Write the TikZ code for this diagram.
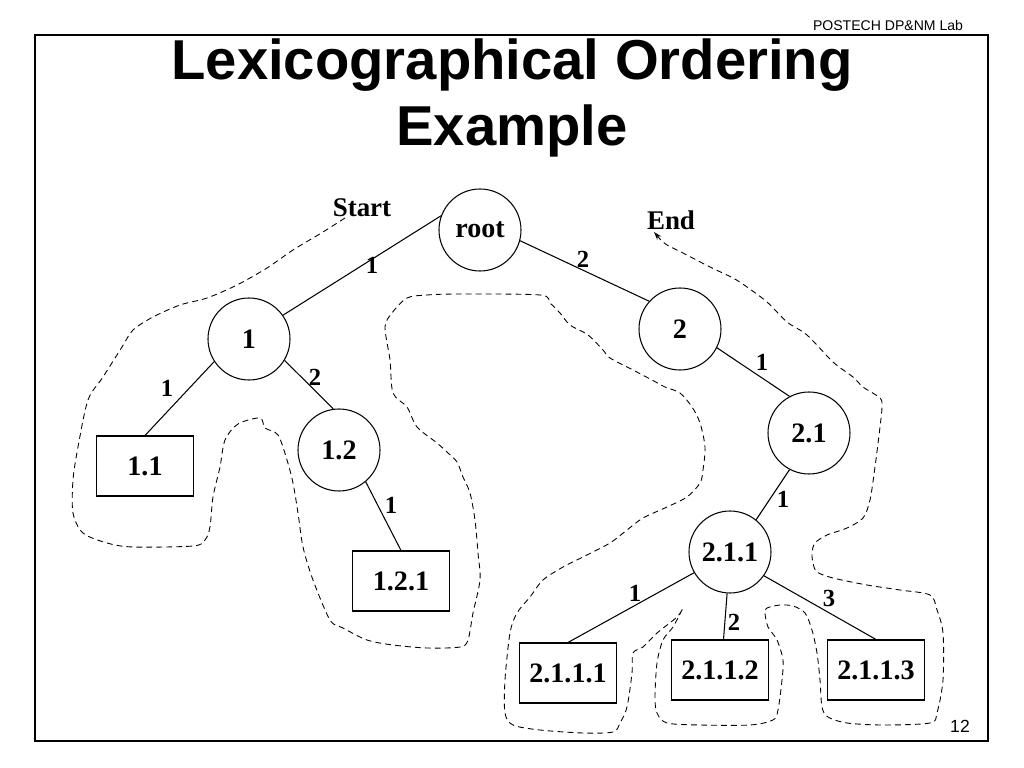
\documentclass[tikz,border=0pt]{standalone}
\usepackage{fontspec}
\setmainfont{Liberation Serif}
\newfontfamily\headfont{Liberation Sans}
\usetikzlibrary{arrows.meta}

\tikzset{
  inner/.style={circle, draw, line width=0.9pt, minimum size=2.46cm, inner sep=0pt,
    font=\fontsize{24}{28}\selectfont\bfseries},
  leaf/.style={rectangle, draw, line width=0.9pt, minimum width=2.91cm, minimum height=1.8cm,
    inner sep=0pt, font=\fontsize{24}{28}\selectfont\bfseries},
  branch/.style={line width=0.9pt},
  lbl/.style={inner sep=0pt, font=\fontsize{21}{24}\selectfont\bfseries},
  walk/.style={dash pattern=on 5pt off 3.5pt, line width=0.75pt},
}

\begin{document}
\begin{tikzpicture}[x=0.03cm, y=-0.03cm]
    \useasboundingbox (0,0) rectangle (1024,768);
    \draw[line width=2.5pt] (35,35) rectangle (988,741);

    \node[font=\headfont\fontsize{12}{14}\selectfont] (lab) at (888,25) {POSTECH DP\&NM Lab};
    \node[font=\headfont\fontsize{15}{18}\selectfont] (page) at (960,726) {12};
    \node[font=\headfont\fontsize{48}{56}\selectfont\bfseries, align=center] (title) at (512,98)
        {Lexicographical Ordering\\Example};

    % tree
    \node[inner] (root) at (480,230) {root};
    \node[inner] (n1) at (249,339) {1};
    \node[inner] (n12) at (339,450) {1.2};
    \node[inner] (n2) at (680,329) {2};
    \node[inner] (n21) at (809,433) {2.1};
    \node[inner] (n211) at (730,552) {2.1.1};
    \node[leaf] (b11) at (145,466) {1.1};
    \node[leaf] (b121) at (401,581) {1.2.1};
    \node[leaf] (b2111) at (568,673) {2.1.1.1};
    \node[leaf] (b2112) at (720,670) {2.1.1.2};
    \node[leaf] (b2113) at (876,670) {2.1.1.3};

    \draw[branch] (root.160) -- (n1.35);
    \draw[branch] (root.-15) -- (n2.138);
    \draw[branch] (n1.213) -- (b11.north);
    \draw[branch] (n1.-31) -- (n12.98);
    \draw[branch] (n12.-50) -- (b121.north);
    \draw[branch] (n2.-27) -- (n21.118);
    \draw[branch] (n21.242) -- (n211.51);
    \draw[branch] (n211.210) -- (b2111.north);
    \draw[branch] (n211.-94) -- ([xshift=3pt]b2112.north);
    \draw[branch] (n211.-35) -- (b2113.north);

    \node[lbl] (e1) at (372,265) {1};
    \node[lbl] (e2) at (583,259) {2};
    \node[lbl] (e11) at (167,388) {1};
    \node[lbl] (e12) at (315,377) {2};
    \node[lbl] (e121) at (391,505) {1};
    \node[lbl] (e21) at (762,362) {1};
    \node[lbl] (e211) at (783,499) {1};
    \node[lbl] (e2111) at (635,593) {1};
    \node[lbl] (e2112) at (734,622) {2};
    \node[lbl] (e2113) at (829,598) {3};

    \node[lbl, font=\fontsize{23}{26}\selectfont\bfseries] (start) at (362,208) {Start};
    \node[lbl, font=\fontsize{23}{26}\selectfont\bfseries] (end) at (671,220) {End};

    % the walk round the tree
    \draw[walk] plot[smooth, tension=0.5] coordinates {
        (345,218) (323,232) (293,250) (267,268) (237,285) (207,298) (180,305) (153,317)
        (133,330) (122,347) (103,377) (88,400) (78,447) (73,480) (73,513) (83,533)
        (107,543) (133,547) (193,546) (205,540) (210,527) (213,497) (220,467) (225,440)
        (238,424) (260,418) (265,428) (278,435) (287,460) (293,483) (298,513) (303,547)
        (313,580) (330,620) (343,628) (367,640) (393,645) (427,648) (460,647) (468,640)
        (473,613) (480,580) (478,553) (475,520) (470,493) (463,477) (457,462) (448,453)
        (437,443) (417,427) (407,407) (393,393) (390,360) (385,327) (392,313) (407,298)
        (427,295) (460,294) (540,295) (550,303) (560,313) (570,325) (588,335) (603,350)
        (610,358) (633,370) (652,380) (665,387) (680,393) (692,407) (700,423) (705,447)
        (703,470) (700,483) (687,497) (667,507) (643,518) (627,530) (610,543) (583,557)
        (563,567) (543,580) (530,597) (517,613) (510,633) (505,680) (505,713) (513,725)
        (540,730) (583,733) (613,732) (620,723) (627,707) (632,673) (633,653) (643,647)
        (657,633) (677,617) (683,608)}
      -- plot[smooth, tension=0.5] coordinates {
        (683,608) (673,627) (663,640) (657,663) (655,697) (657,713) (667,723) (700,725)
        (750,725) (773,720) (778,710) (782,680) (783,660) (777,640) (768,627) (765,613)
        (767,608) (780,605) (793,606) (805,613) (812,630) (817,653) (820,680) (822,707)
        (828,717) (847,723) (883,725) (930,723) (937,713) (943,680) (943,633) (937,610)
        (930,595) (900,590) (867,585) (833,578) (817,572) (813,563) (812,553) (815,543)
        (827,535) (847,528) (863,518) (870,500) (875,467) (880,427) (882,407) (880,398)
        (863,387) (853,377) (833,362) (807,335) (787,322) (767,302) (747,287) (733,278)
        (710,267) (683,253) (667,245) (660,239)};
    \draw[walk, dash pattern=, -{Stealth[length=7pt, width=4.5pt]}] (660,239) -- (654,232);
\end{tikzpicture}
\end{document}
